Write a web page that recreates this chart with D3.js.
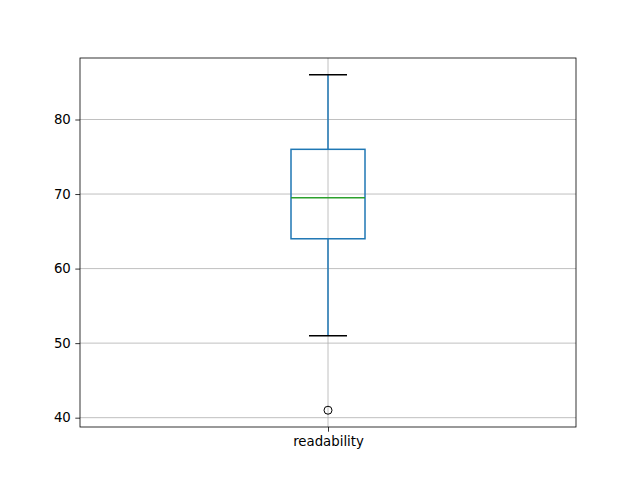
<!DOCTYPE html>
<html>
<head>
<meta charset="utf-8">
<title>readability boxplot</title>
<script src="https://cdn.jsdelivr.net/npm/d3@7"></script>
<style>
  body { margin: 0; background: #fff; }
  svg text { font-family: "DejaVu Sans", sans-serif; font-size: 13.3px; fill: #000; }
</style>
</head>
<body>
<div id="chart"></div>
<script>
// box statistics
var categories = ["readability"];
var q1 = [64];
var median = [69.5];
var q3 = [76];
var whiskerLow = [51];
var whiskerHigh = [86];
var outliers = [[41]];
var yTicks = [40, 50, 60, 70, 80];

var width = 640, height = 480;
// note: "top" is taken by window.top, so use plotTop / plotBottom
var plotLeft = 80, plotRight = 576, plotTop = 58, plotBottom = 427;

var svg = d3.select("#chart").append("svg")
    .attr("width", width).attr("height", height);

var y = d3.scaleLinear().domain([38.75, 88.25]).range([plotBottom, plotTop]);
var x = d3.scalePoint().domain(categories).range([plotLeft, plotRight]).padding(0.5);

// grid
svg.append("g").selectAll("line").data(yTicks).enter().append("line")
    .attr("x1", plotLeft).attr("x2", plotRight)
    .attr("y1", function(d) { return y(d); }).attr("y2", function(d) { return y(d); })
    .attr("stroke", "#b0b0b0").attr("stroke-width", 0.8);
svg.append("g").selectAll("line").data(categories).enter().append("line")
    .attr("x1", function(d) { return x(d); }).attr("x2", function(d) { return x(d); })
    .attr("y1", plotTop).attr("y2", plotBottom)
    .attr("stroke", "#b0b0b0").attr("stroke-width", 0.8);

var boxW = 74, capW = 38;
var g = svg.append("g").selectAll("g").data(categories).enter().append("g");

// whiskers
g.append("line")
    .attr("x1", function(d) { return x(d); }).attr("x2", function(d) { return x(d); })
    .attr("y1", function(d, i) { return y(q1[i]); }).attr("y2", function(d, i) { return y(whiskerLow[i]); })
    .attr("stroke", "#1f77b4").attr("stroke-width", 1.5);
g.append("line")
    .attr("x1", function(d) { return x(d); }).attr("x2", function(d) { return x(d); })
    .attr("y1", function(d, i) { return y(q3[i]); }).attr("y2", function(d, i) { return y(whiskerHigh[i]); })
    .attr("stroke", "#1f77b4").attr("stroke-width", 1.5);
// caps
[whiskerLow, whiskerHigh].forEach(function(arr) {
    g.append("line")
        .attr("x1", function(d) { return x(d) - capW / 2; }).attr("x2", function(d) { return x(d) + capW / 2; })
        .attr("y1", function(d, i) { return y(arr[i]); }).attr("y2", function(d, i) { return y(arr[i]); })
        .attr("stroke", "#000").attr("stroke-width", 1.5);
});
// box
g.append("rect")
    .attr("x", function(d) { return x(d) - boxW / 2; })
    .attr("y", function(d, i) { return y(q3[i]); })
    .attr("width", boxW)
    .attr("height", function(d, i) { return y(q1[i]) - y(q3[i]); })
    .attr("fill", "none").attr("stroke", "#1f77b4").attr("stroke-width", 1.5);
// median
g.append("line")
    .attr("x1", function(d) { return x(d) - boxW / 2; }).attr("x2", function(d) { return x(d) + boxW / 2; })
    .attr("y1", function(d, i) { return y(median[i]); }).attr("y2", function(d, i) { return y(median[i]); })
    .attr("stroke", "#2ca02c").attr("stroke-width", 1.5);
// outliers
g.each(function(d, i) {
    d3.select(this).selectAll("circle").data(outliers[i]).enter().append("circle")
        .attr("cx", x(d)).attr("cy", function(v) { return y(v); })
        .attr("r", 4).attr("fill", "none").attr("stroke", "#000").attr("stroke-width", 1);
});

// axes
var yAxis = svg.append("g").attr("transform", "translate(" + plotLeft + ",0)")
    .call(d3.axisLeft(y).tickValues(yTicks).tickSize(4.7).tickPadding(4.5));
var xAxis = svg.append("g").attr("transform", "translate(0," + plotBottom + ")")
    .call(d3.axisBottom(x).tickSize(4.7).tickPadding(4.5));
[yAxis, xAxis].forEach(function(a) {
    a.select(".domain").remove();
    a.selectAll("line").attr("stroke", "#000").attr("stroke-width", 0.8);
    a.selectAll("text").style("font-family", "DejaVu Sans, sans-serif").style("font-size", "13.3px").attr("fill", "#000");
});

// frame
svg.append("rect").attr("x", plotLeft).attr("y", plotTop)
    .attr("width", plotRight - plotLeft).attr("height", plotBottom - plotTop)
    .attr("fill", "none").attr("stroke", "#000").attr("stroke-width", 0.8);
</script>
</body>
</html>
